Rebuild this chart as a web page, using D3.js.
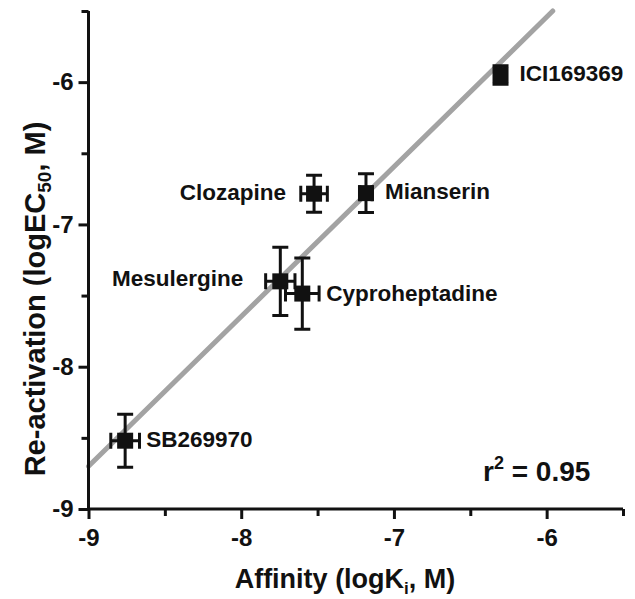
<!DOCTYPE html>
<html><head><meta charset="utf-8">
<script src="https://cdn.jsdelivr.net/npm/d3@7"></script>
<style>
body{margin:0;background:#fff;}
text{font-family:"Liberation Sans",Arial,Helvetica,sans-serif;font-weight:bold;fill:#111;}
</style></head>
<body><svg id="c" width="635" height="599"></svg>
<script>
// ---- data ----
const compounds = ["SB269970","Mesulergine","Cyproheptadine","Clozapine","Mianserin","ICI169369"];
const affinity = [-8.76, -7.744, -7.60, -7.523, -7.183, -6.302];
const affinityErr = [0.094, 0.096, 0.11, 0.087, 0.04, 0.03];
const reactivation = [-8.52, -7.40, -7.486, -6.784, -6.78, -5.95];
const reactivationErr = [0.186, 0.24, 0.25, 0.13, 0.137, 0.065];
const fitX = [-9, -5.96];
const fitY = [-8.70, -5.5];
const xTicks = [-9, -8, -7, -6];
const xMinorTicks = [-8.5, -7.5, -6.5, -5.5];
const yTicks = [-9, -8, -7, -6];
const yMinorTicks = [-8.5, -7.5, -6.5, -5.5];
const rSquared = "0.95";

// label placement (style only)
const labelPlace = {
  "SB269970": {dx: 21, dy: 6, anchor: "start"},
  "Mesulergine": {dx: -37, dy: 5, anchor: "end"},
  "Cyproheptadine": {dx: 24, dy: 7.5, anchor: "start"},
  "Clozapine": {dx: -28, dy: 6, anchor: "end"},
  "Mianserin": {dx: 19, dy: 6, anchor: "start"},
  "ICI169369": {dx: 19, dy: 6, anchor: "start"}
};

const svg = d3.select("#c");
const x = d3.scaleLinear().domain([-9, -5.5]).range([88.5, 623]);
const y = d3.scaleLinear().domain([-9, -5.5]).range([509, 11]);

// fit line
svg.append("line")
  .attr("x1", x(fitX[0])).attr("y1", y(fitY[0]))
  .attr("x2", x(fitX[1])).attr("y2", y(fitY[1]))
  .attr("stroke", "#a3a3a3").attr("stroke-width", 5).attr("stroke-linecap", "round");

// axes
function styleAxis(g){
  g.select(".domain").attr("stroke", "#111").attr("stroke-width", 3);
  g.selectAll(".tick line").attr("stroke", "#111").attr("stroke-width", 3);
  g.selectAll(".tick text").style("font-size", "24px").attr("fill", "#111");
}
const gxMinor = svg.append("g").attr("transform", `translate(0,${y(-9)})`)
  .call(d3.axisBottom(x).tickValues(xMinorTicks).tickSize(7).tickSizeOuter(0).tickFormat(""));
gxMinor.select(".domain").remove();
gxMinor.selectAll(".tick line").attr("stroke", "#111").attr("stroke-width", 3);

const gyMinor = svg.append("g").attr("transform", `translate(${x(-9)},0)`)
  .call(d3.axisLeft(y).tickValues(yMinorTicks).tickSize(7).tickSizeOuter(0).tickFormat(""));
gyMinor.select(".domain").remove();
gyMinor.selectAll(".tick line").attr("stroke", "#111").attr("stroke-width", 3);

const gx = svg.append("g").attr("transform", `translate(0,${y(-9)})`)
  .call(d3.axisBottom(x).tickValues(xTicks).tickSize(10).tickSizeOuter(0).tickPadding(10).tickFormat(d => String(d)))
  .call(styleAxis);
const gy = svg.append("g").attr("transform", `translate(${x(-9)},0)`)
  .call(d3.axisLeft(y).tickValues(yTicks).tickSize(10).tickSizeOuter(0).tickPadding(5).tickFormat(d => String(d)))
  .call(styleAxis);
gx.select(".domain").attr("d", `M${x(-9)-1.5},0H${x(-5.5)}`);
gy.select(".domain").attr("d", `M0,${y(-9)+1.5}V${y(-5.5)}`);

// error bars + points
const pts = compounds.map((c, i) => ({c, x: affinity[i], xe: affinityErr[i], y: reactivation[i], ye: reactivationErr[i]}));
const cap = 8;
const g = svg.append("g");
pts.forEach(p => {
  const cx = x(p.x), cy = y(p.y);
  const x0 = x(p.x - p.xe), x1 = x(p.x + p.xe);
  const y0 = y(p.y - p.ye), y1 = y(p.y + p.ye);
  const path = `M${x0},${cy}H${x1}M${x0},${cy-cap}V${cy+cap}M${x1},${cy-cap}V${cy+cap}` +
               `M${cx},${y0}V${y1}M${cx-cap},${y0}H${cx+cap}M${cx-cap},${y1}H${cx+cap}`;
  g.append("path").attr("d", path).attr("stroke", "#111").attr("stroke-width", 3).attr("fill", "none");
  g.append("rect").attr("x", cx - 8).attr("y", cy - 8).attr("width", 16).attr("height", 16).attr("fill", "#111");
  const lp = labelPlace[p.c];
  g.append("text").attr("x", cx + lp.dx).attr("y", cy + lp.dy).attr("text-anchor", lp.anchor)
    .style("font-size", "22.5px").text(p.c);
});

// r^2
const rt = svg.append("text").attr("x", 483).attr("y", 481).style("font-size", "28px");
rt.append("tspan").text("r");
rt.append("tspan").attr("dy", -12).style("font-size", "18px").text("2");
rt.append("tspan").attr("dy", 12).text(" = " + rSquared);

// axis titles
const xt = svg.append("text").attr("x", 345).attr("y", 588).attr("text-anchor", "middle").style("font-size", "27px");
xt.append("tspan").text("Affinity (logK");
xt.append("tspan").attr("dy", 6).style("font-size", "17px").text("i");
xt.append("tspan").attr("dy", -6).text(", M)");

const yt = svg.append("text").attr("transform", "translate(45,299) rotate(-90)").attr("text-anchor", "middle").style("font-size", "29px");
yt.append("tspan").text("Re-activation (logEC");
yt.append("tspan").attr("dy", 6).style("font-size", "19px").text("50");
yt.append("tspan").attr("dy", -6).text(", M)");
</script></body></html>
